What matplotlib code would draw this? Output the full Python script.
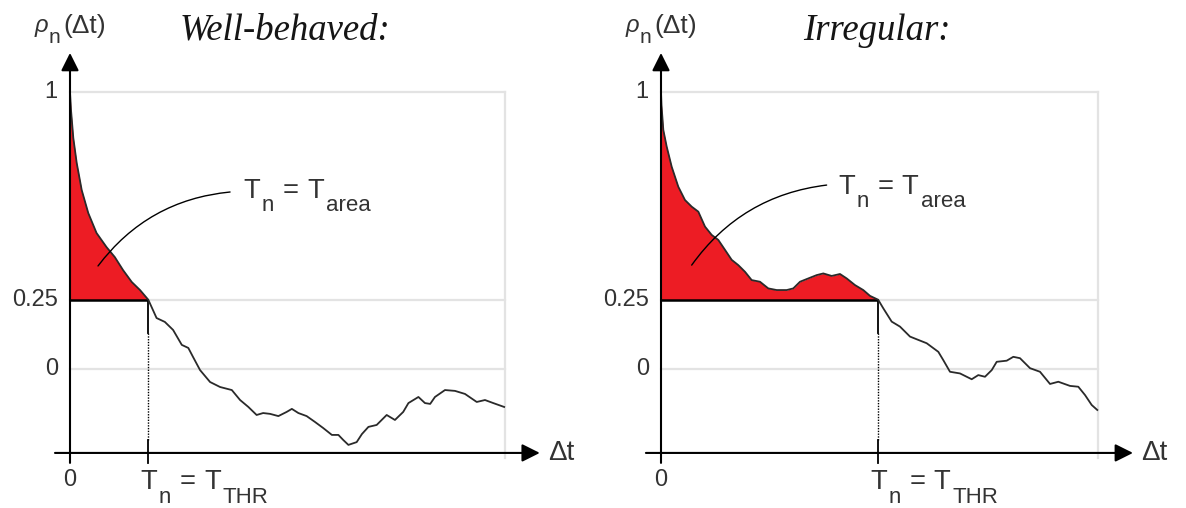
import numpy as np
import matplotlib
matplotlib.use("Agg")
import matplotlib.pyplot as plt
import matplotlib.transforms as mtransforms

plt.rcParams["font.family"] = ["Liberation Sans", "DejaVu Sans"]

# Autocorrelation traces (time lag in % of the shown window)
well_dt = [0, 0.23, 0.76, 1.54, 2.69, 4.2, 6.1, 8.4, 10.3, 12.2, 14.2, 16.1, 18.0,
           19.9, 21.8, 23.7, 25.7, 27.2, 28.3, 29.9, 32.2, 34.5, 37.2, 39.1, 41.0,
           42.9, 44.4, 46.0, 47.9, 49.8, 51.0, 52.5, 54.4, 56.3, 58.2, 60.2, 61.7,
           62.8, 64.0, 65.9, 67.1, 68.6, 70.5, 72.8, 74.7, 76.6, 77.8, 80.1, 81.6,
           82.8, 83.9, 86.2, 88.5, 90.8, 93.5, 95.4, 97.3, 99.8]
well_rho = [1.0, 0.935, 0.834, 0.744, 0.646, 0.563, 0.491, 0.440, 0.404, 0.357, 0.314,
            0.285, 0.25, 0.184, 0.170, 0.141, 0.087, 0.076, 0.043, -0.004, -0.047,
            -0.065, -0.076, -0.112, -0.137, -0.166, -0.159, -0.162, -0.170, -0.155,
            -0.144, -0.159, -0.170, -0.191, -0.213, -0.238, -0.238, -0.256, -0.274,
            -0.264, -0.235, -0.209, -0.202, -0.166, -0.184, -0.155, -0.123, -0.101,
            -0.123, -0.126, -0.101, -0.076, -0.079, -0.090, -0.119, -0.112, -0.123,
            -0.137]

irr_dt = [0, 0.11, 0.53, 1.30, 2.45, 3.96, 5.49, 7.03, 8.54, 10.07, 11.60, 13.11,
          14.65, 16.18, 17.69, 19.22, 20.75, 22.65, 24.55, 26.48, 28.76, 30.27, 31.81,
          33.71, 35.63, 37.14, 39.06, 40.96, 42.49, 44.39, 46.29, 47.83, 49.7, 50.87,
          52.79, 54.69, 56.98, 58.88, 60.80, 63.46, 64.60, 66.13, 68.42, 71.10, 72.61,
          74.14, 75.68, 76.82, 79.11, 80.62, 82.15, 84.44, 86.73, 89.02, 90.92, 93.59,
          95.49, 97.03, 98.56, 99.84]
irr_rho = [1.0, 0.953, 0.863, 0.803, 0.730, 0.658, 0.610, 0.586, 0.568, 0.514, 0.484,
           0.466, 0.430, 0.394, 0.375, 0.351, 0.321, 0.315, 0.291, 0.285, 0.285, 0.291,
           0.315, 0.327, 0.339, 0.345, 0.336, 0.343, 0.327, 0.303, 0.285, 0.264, 0.25,
           0.219, 0.171, 0.153, 0.117, 0.105, 0.093, 0.062, 0.032, -0.010, -0.016,
           -0.037, -0.022, -0.028, -0.004, 0.026, 0.030, 0.044, 0.039, 0.003, -0.010,
           -0.054, -0.046, -0.061, -0.064, -0.094, -0.130, -0.148]

threshold = 0.25
t_thr_well = 18.0
t_thr_irr = 49.7

ytick_values = [1, 0.25, 0]
ytick_labels = ["1", "0.25", "0"]
titles = ["Well-behaved:", "Irregular:"]

RED = "#ED1C24"
GRID = "#e3e3e3"
TXT = "#333333"
MAIN, SUB, DROP = 19.7, 16, -9.5

fig = plt.figure(figsize=(11.86, 5.08), dpi=100)
W, H = 1186, 508
renderer = fig.canvas.get_renderer()


def rich_text(ax, x, y, pieces, center=False):
    """Lay out text pieces (text, size, dy_pt, gap_pt, extra) left to right."""
    items = []
    dx = 0.0
    for s, size, dy, gap, extra in pieces:
        t = ax.text(x, y, s, fontsize=size, ha="left", va="baseline",
                    color=TXT, clip_on=False, **extra)
        w = t.get_window_extent(renderer=renderer).width * 72 / fig.dpi
        items.append((t, dx, dy))
        dx += w + gap
    total = dx - pieces[-1][3]
    shift = -total / 2 if center else 0.0
    for t, ox, dy in items:
        t.set_transform(mtransforms.offset_copy(ax.transData, fig=fig,
                                                x=ox + shift, y=dy, units="points"))


def make_axes(x0_px, width_px):
    # axes box spans lag 0..100 horizontally and rho 0..1 vertically
    ax = fig.add_axes([x0_px / W, (H - 369) / H, width_px / W, 277 / H])
    ax.set_xlim(0, 100)
    ax.set_ylim(0, 1)
    ax.axis("off")
    return ax


def draw_panel(ax, dt, rho, t_thr, title, leader_pt, leader_end, label_pos):
    dt = np.asarray(dt)
    rho = np.asarray(rho)
    y_axis_lo = -0.339
    x_axis_y = -0.303

    # light frame / reference levels
    for v in ytick_values:
        ax.plot([0, 100], [v, v], color=GRID, lw=1.6, clip_on=False, zorder=1)
    ax.plot([100, 100], [1, x_axis_y - 0.02], color=GRID, lw=1.6, clip_on=False, zorder=1)

    # area above threshold up to the first crossing
    mask = dt <= t_thr
    ax.fill_between(dt[mask], rho[mask], threshold, color=RED, lw=0, zorder=2)
    ax.plot([0, t_thr], [threshold, threshold], color="black", lw=1.8,
            clip_on=False, zorder=3, solid_capstyle="butt")

    # the trace
    ax.plot(dt, rho, color="#2a2a2a", lw=1.3, clip_on=False, zorder=4)

    # threshold crossing marker
    ax.plot([t_thr, t_thr], [threshold, 0.130], color="black", lw=1.3,
            clip_on=False, zorder=3)
    ax.plot([t_thr, t_thr], [0.130, -0.256], color="black", lw=1.0,
            ls=(0, (1, 1)), clip_on=False, zorder=3)
    ax.plot([t_thr, t_thr], [-0.256, y_axis_lo], color="black", lw=1.3,
            clip_on=False, zorder=5)

    # axes with arrows
    arrow = dict(arrowstyle="-|>,head_length=0.4,head_width=0.2",
                 mutation_scale=27, lw=1.5, color="black",
                 shrinkA=0, shrinkB=0)
    ax.annotate("", xy=(0, 1.141), xytext=(0, y_axis_lo),
                arrowprops=arrow, annotation_clip=False, zorder=6)
    ax.annotate("", xy=(108.0, x_axis_y), xytext=(-3.45, x_axis_y),
                arrowprops=arrow, annotation_clip=False, zorder=6)

    # tick labels
    for v, lab in zip(ytick_values, ytick_labels):
        ax.text(-2.8, v, lab, ha="right", va="center", fontsize=17,
                color=TXT, clip_on=False)
    ax.text(0, -0.36, "0", ha="center", va="top", fontsize=17, color=TXT)
    ax.text(109.8, x_axis_y, "Δt", ha="left", va="center", fontsize=20, color=TXT)

    # threshold-time label under the axis
    rich_text(ax, t_thr - 1.9, -0.435, [
        ("T", MAIN, 0, 1.5, {}), ("n", SUB, DROP, 6, {}), ("=", MAIN, 0, 6, {}),
        ("T", MAIN, 0, 1.5, {}), ("THR", SUB, DROP, 0, {})])

    # axis quantity above the vertical arrow
    rich_text(ax, 0, 1.213, [
        ("ρ", 17, 1, 0.5, {"style": "italic"}), ("n", 15, -7, 2, {}),
        ("(Δt)", 19, 0, 0, {})], center=True)

    # title
    ax.text(49.5, 1.188, title, ha="center", va="baseline", fontsize=26.5,
            family="Liberation Serif", style="italic", color="#151515")

    # leader to the area label
    ax.annotate("", xy=leader_pt, xytext=leader_end,
                arrowprops=dict(arrowstyle="-", lw=1.0, color="black",
                                connectionstyle="arc3,rad=0.22",
                                shrinkA=0, shrinkB=0),
                annotation_clip=False, zorder=6)
    rich_text(ax, label_pos[0], label_pos[1], [
        ("T", MAIN, 0, 1.5, {}), ("n", SUB, DROP, 6, {}), ("=", MAIN, 0, 6, {}),
        ("T", MAIN, 0, 1.5, {}), ("area", SUB, DROP, 0, {})])


ax_l = make_axes(70, 435)
draw_panel(ax_l, well_dt, well_rho, t_thr_well, titles[0],
           leader_pt=(6.44, 0.372), leader_end=(36.8, 0.639),
           label_pos=(39.8, 0.617))

ax_r = make_axes(661, 437)
draw_panel(ax_r, irr_dt, irr_rho, t_thr_irr, titles[1],
           leader_pt=(7.02, 0.375), leader_end=(37.9, 0.664),
           label_pos=(40.5, 0.632))

fig.savefig("out.png", dpi=100)
